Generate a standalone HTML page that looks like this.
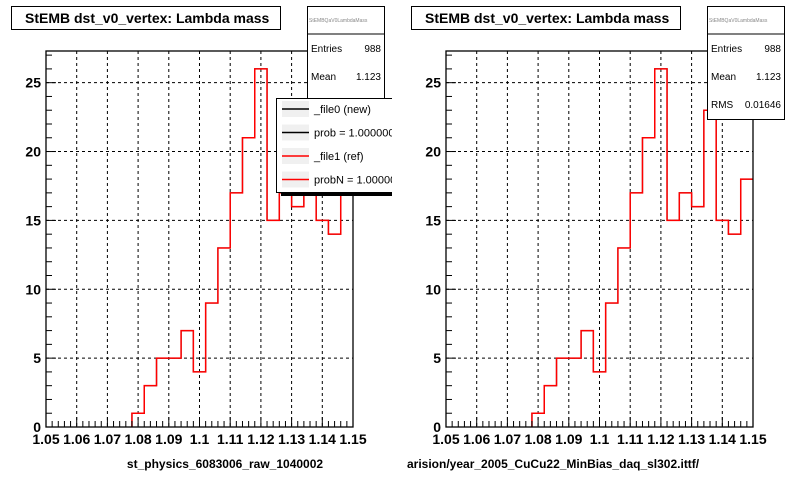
<!DOCTYPE html>
<html><head><meta charset="utf-8"><style>
body{margin:0;background:#fff;}
svg{display:block;font-family:"Liberation Sans",Arial,sans-serif;}
</style></head><body>
<svg id="c" width="800" height="480" xmlns="http://www.w3.org/2000/svg"></svg>
<script>
const binEdges0 = 1.05;
const binWidth = 0.004;
const counts = [0,0,0,0,0,0,0,1,3,5,5,7,4,9,13,17,21,26,15,17,16,23,15,14,18];
const xTicks = [1.05,1.06,1.07,1.08,1.09,1.1,1.11,1.12,1.13,1.14,1.15];
const xTickLabels = ["1.05","1.06","1.07","1.08","1.09","1.1","1.11","1.12","1.13","1.14","1.15"];
const yTicks = [0,5,10,15,20,25];
const footers = ["st_physics_6083006_raw_1040002","arision/year_2005_CuCu22_MinBias_daq_sl302.ittf/"];
const NS="http://www.w3.org/2000/svg";
const svg=document.getElementById('c');
function mk(tag,attrs,parent){const e=document.createElementNS(NS,tag);for(const k in attrs)e.setAttribute(k,attrs[k]);(parent||svg).appendChild(e);return e;}
const L=46,R=353,T=51,B=427,YMAX=27.3;
function panel(off,idx){
  const g=mk('g',{transform:'translate('+off+',0)'});
  
  
  const xs=v=>L+(v-1.05)/0.1*(R-L);
  const ys=v=>B-v/YMAX*(B-T);
  xTicks.slice(1,-1).forEach(v=>{const l=mk('line',{x1:xs(v),x2:xs(v),y1:T,y2:B,stroke:'#000','stroke-dasharray':'3,3','stroke-width':1},g);
    
    });
  yTicks.slice(1).forEach(v=>{const l=mk('line',{x1:L,x2:R,y1:ys(v),y2:ys(v),stroke:'#000','stroke-dasharray':'3,3','stroke-width':1},g);
    
    });
  function hp(){let first=counts.findIndex(c=>c>0);if(first<0)first=0;
    let d='M'+xs(binEdges0+first*binWidth)+','+ys(0);
    for(let i=first;i<counts.length;i++){const c=counts[i];const x0=xs(binEdges0+i*binWidth),x1=xs(binEdges0+(i+1)*binWidth),y=ys(c);d+=' L'+x0+','+y+' L'+x1+','+y;}
    return d;}
  const blk=mk('path',{d:hp(),fill:'none',stroke:'#000','stroke-width':1.2},g);
  
  
  const red=mk('path',{d:hp(),fill:'none',stroke:'#ff0000','stroke-width':1.5},g);
  
  
  const fr=mk('rect',{x:L,y:T,width:R-L,height:B-T,fill:'none',stroke:'#000','stroke-width':1.3},g);
  
  
  for(let i=0;i<=50;i++){const x=L+i*(R-L)/50;const big=i%5===0;mk('line',{x1:x,x2:x,y1:B,y2:B-(big?10:6),stroke:'#000'},g);}
  for(let i=0;i<=Math.floor(YMAX);i++){const y=ys(i);const big=i%5===0;mk('line',{x1:L,x2:L+(big?10:6),y1:y,y2:y,stroke:'#000'},g);}
  xTicks.forEach((v,i)=>{const t=mk('text',{x:xs(v),y:444,'font-size':14,'font-weight':'bold','text-anchor':'middle'},g);t.textContent=xTickLabels[i];
    
    });
  yTicks.forEach(v=>{const t=mk('text',{x:41,y:ys(v)+5,'font-size':14,'font-weight':'bold','text-anchor':'end'},g);t.textContent=String(v);
    
    });
  const tb=mk('rect',{x:11.5,y:6.5,width:269,height:23,fill:'#fff',stroke:'#000'},g);
  
  
  const tt=mk('text',{x:25,y:23,'font-size':14,'font-weight':'bold'},g);tt.textContent='StEMB dst_v0_vertex: Lambda mass';
  
  
  const sb=mk('rect',{x:307.5,y:6.5,width:77,height:113,fill:'#fff',stroke:'#000'},g);
  
  
  mk('line',{x1:307.5,x2:384.5,y1:34,y2:34,stroke:'#000'},g);
  const sn=mk('text',{x:309,y:22,'font-size':5,fill:'#888'},g);sn.textContent='StEMBQaV0LambdaMass';
  const rows=[['Entries','988',52],['Mean','1.123',80],['RMS','0.01646',108]];
  rows.forEach(r=>{const a=mk('text',{x:311,y:r[2],'font-size':10},g);a.textContent=r[0];
    
    
    const b=mk('text',{x:381,y:r[2],'font-size':10,'text-anchor':'end'},g);b.textContent=r[1];
    
    });
  const ft=mk('text',{x:idx===0?225:7,y:468,'font-size':12,'font-weight':'bold','text-anchor':idx===0?'middle':'start'},g);ft.textContent=footers[idx];
  
  
  if(idx===0){
    const lg=mk('g',{},g);
    
    
    mk('rect',{x:281,y:192,width:111,height:4,fill:'#000'},lg);
    mk('rect',{x:276.5,y:98.5,width:125,height:94,fill:'#fff',stroke:'#000'},lg);
    const ents=[['_file0 (new)','#000'],['prob = 1.000000','#000'],['_file1 (ref)','#f00'],['probN = 1.000000','#f00']];
    ents.forEach((e,i)=>{const y=109+i*23.5;
      mk('rect',{x:282,y:y-8,width:27,height:16,fill:'#f0f0f0'},lg);
      mk('line',{x1:282,x2:309,y1:y,y2:y,stroke:e[1],'stroke-width':1.5},lg);
      const t=mk('text',{x:314,y:y+4,'font-size':11},lg);t.textContent=e[0];
      
      });
    mk('rect',{x:392,y:90,width:12,height:110,fill:'#fff'},lg);
  }
}
panel(0,0);panel(400,1);
</script>
</body></html>
